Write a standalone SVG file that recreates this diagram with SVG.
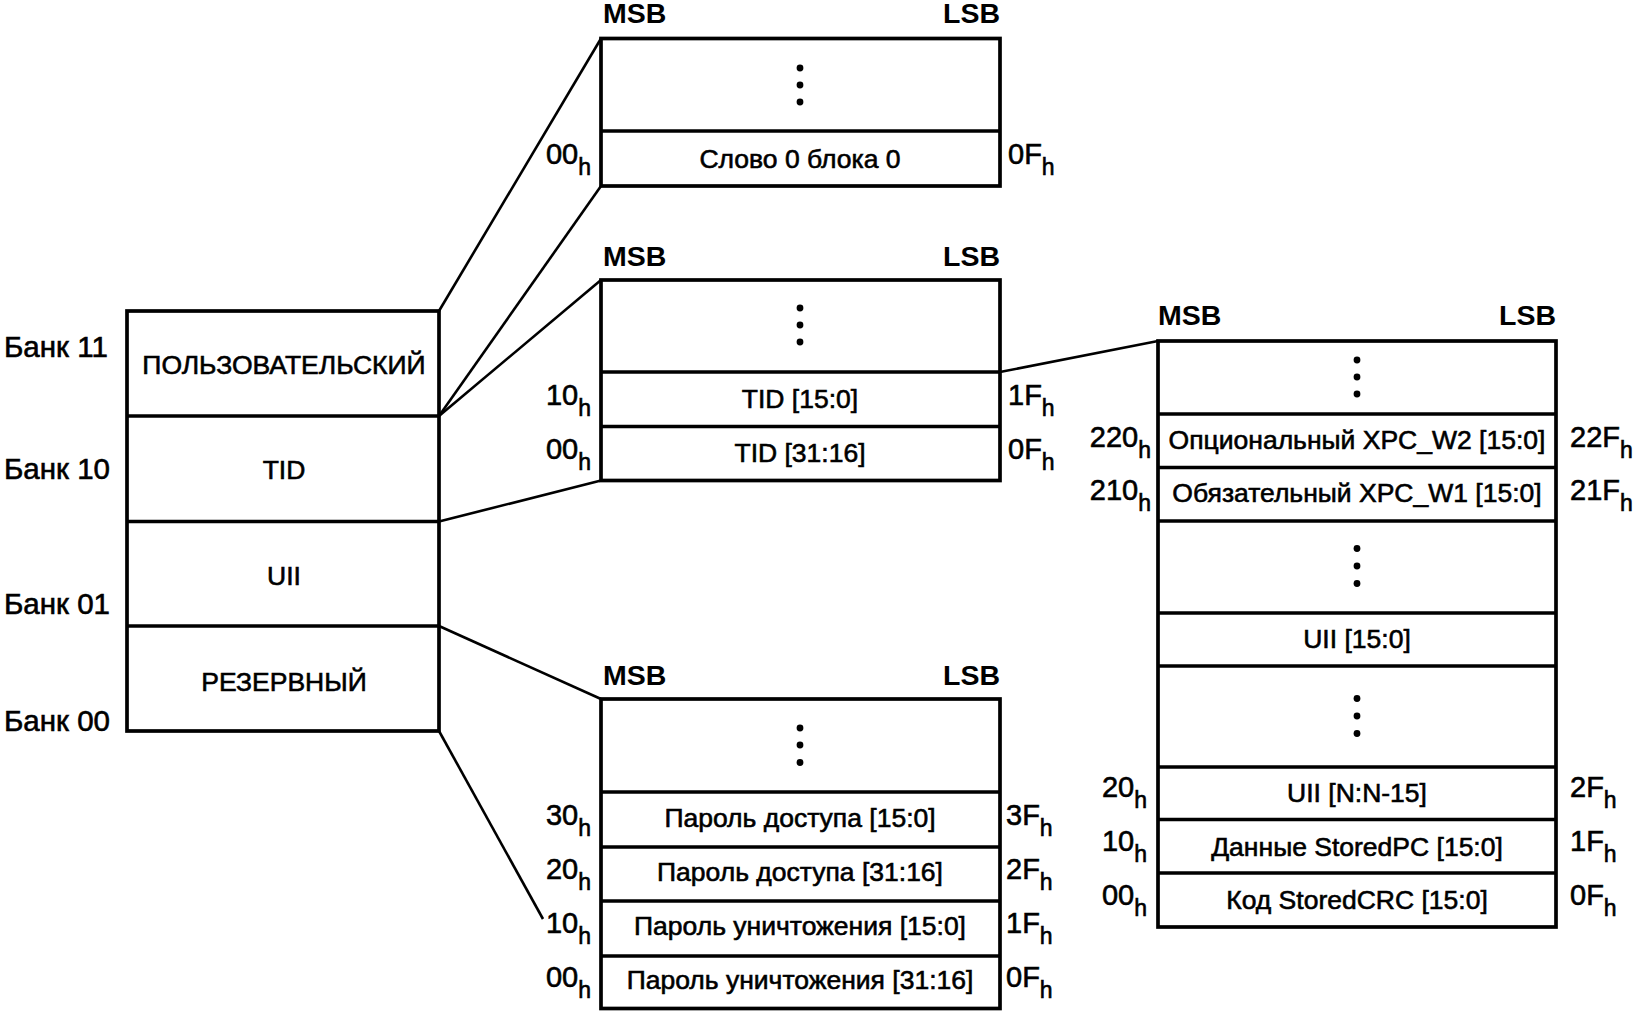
<svg xmlns="http://www.w3.org/2000/svg" width="1642" height="1016" viewBox="0 0 1642 1016">
<style>
text{font-family:"Liberation Sans",Arial,sans-serif;fill:#000;stroke:#000;stroke-width:0.6}
.box{fill:#fff;stroke:#000;stroke-width:3.7}
.div{stroke:#000;stroke-width:3.5}
.con{stroke:#000;stroke-width:2.6;fill:none}
.bank{font-size:29.5px}
.bt{font-size:26.5px;text-anchor:middle}
.hdr{font-size:28.5px;font-weight:bold;stroke-width:0}
.c{font-size:26.5px;text-anchor:middle}
.c4{font-size:26.5px;text-anchor:middle}
.al{font-size:29px;text-anchor:end}
.ar{font-size:29px}
.sub{font-size:23px}
.dot{fill:#000}
</style>
<rect width="1642" height="1016" fill="#fff"/>
<g id="connectors">
<line class="con" x1="439" y1="311" x2="601" y2="38.5"/>
<line class="con" x1="439" y1="416" x2="601" y2="186"/>
<line class="con" x1="439" y1="416" x2="601" y2="280"/>
<line class="con" x1="439" y1="521.5" x2="601" y2="480.5"/>
<line class="con" x1="439" y1="626" x2="601" y2="699"/>
<line class="con" x1="439" y1="731" x2="543" y2="919"/>
<line class="con" x1="1000" y1="372" x2="1158" y2="341"/>
</g>
<g id="banks">
<rect class="box" x="127" y="311" width="312" height="420"/>
<line class="div" x1="127" y1="416" x2="439" y2="416"/>
<line class="div" x1="127" y1="521.5" x2="439" y2="521.5"/>
<line class="div" x1="127" y1="626" x2="439" y2="626"/>
<text class="bt" x="284" y="374">ПОЛЬЗОВАТЕЛЬСКИЙ</text>
<text class="bt" x="284" y="479">TID</text>
<text class="bt" x="284" y="585">UII</text>
<text class="bt" x="284" y="691">РЕЗЕРВНЫЙ</text>
<text class="bank" x="4" y="357">Банк 11</text>
<text class="bank" x="4" y="479">Банк 10</text>
<text class="bank" x="4" y="614">Банк 01</text>
<text class="bank" x="4" y="731">Банк 00</text>
</g>
<g id="user-bank">
<text class="hdr" x="603" y="23">MSB</text>
<text class="hdr" x="1000" y="23" text-anchor="end">LSB</text>
<rect class="box" x="601" y="38.5" width="399" height="147.5"/>
<line class="div" x1="601" y1="131" x2="1000" y2="131"/>
<circle class="dot" cx="800" cy="68" r="3.4"/>
<circle class="dot" cx="800" cy="85" r="3.4"/>
<circle class="dot" cx="800" cy="102" r="3.4"/>
<text class="c" x="800" y="168">Слово 0 блока 0</text>
<text class="al" x="591" y="164">00<tspan class="sub" dy="11">h</tspan></text>
<text class="ar" x="1008" y="164">0F<tspan class="sub" dy="11">h</tspan></text>
</g>
<g id="tid-bank">
<text class="hdr" x="603" y="266">MSB</text>
<text class="hdr" x="1000" y="266" text-anchor="end">LSB</text>
<rect class="box" x="601" y="280" width="399" height="200.5"/>
<line class="div" x1="601" y1="372" x2="1000" y2="372"/>
<line class="div" x1="601" y1="426.5" x2="1000" y2="426.5"/>
<circle class="dot" cx="800" cy="308" r="3.4"/>
<circle class="dot" cx="800" cy="325" r="3.4"/>
<circle class="dot" cx="800" cy="342" r="3.4"/>
<text class="c" x="800" y="408">TID [15:0]</text>
<text class="c" x="800" y="462">TID [31:16]</text>
<text class="al" x="591" y="405">10<tspan class="sub" dy="11">h</tspan></text>
<text class="ar" x="1008" y="405">1F<tspan class="sub" dy="11">h</tspan></text>
<text class="al" x="591" y="459">00<tspan class="sub" dy="11">h</tspan></text>
<text class="ar" x="1008" y="459">0F<tspan class="sub" dy="11">h</tspan></text>
</g>
<g id="reserved-bank">
<text class="hdr" x="603" y="685">MSB</text>
<text class="hdr" x="1000" y="685" text-anchor="end">LSB</text>
<rect class="box" x="601" y="699" width="399" height="309.5"/>
<line class="div" x1="601" y1="792" x2="1000" y2="792"/>
<line class="div" x1="601" y1="847" x2="1000" y2="847"/>
<line class="div" x1="601" y1="901" x2="1000" y2="901"/>
<line class="div" x1="601" y1="956" x2="1000" y2="956"/>
<circle class="dot" cx="800" cy="728" r="3.4"/>
<circle class="dot" cx="800" cy="745" r="3.4"/>
<circle class="dot" cx="800" cy="762.5" r="3.4"/>
<text class="c" x="800" y="827">Пароль доступа [15:0]</text>
<text class="c" x="800" y="881">Пароль доступа [31:16]</text>
<text class="c" x="800" y="935">Пароль уничтожения [15:0]</text>
<text class="c" x="800" y="989">Пароль уничтожения [31:16]</text>
<text class="al" x="591" y="825">30<tspan class="sub" dy="11">h</tspan></text>
<text class="ar" x="1006" y="825">3F<tspan class="sub" dy="11">h</tspan></text>
<text class="al" x="591" y="879">20<tspan class="sub" dy="11">h</tspan></text>
<text class="ar" x="1006" y="879">2F<tspan class="sub" dy="11">h</tspan></text>
<text class="al" x="591" y="933">10<tspan class="sub" dy="11">h</tspan></text>
<text class="ar" x="1006" y="933">1F<tspan class="sub" dy="11">h</tspan></text>
<text class="al" x="591" y="987">00<tspan class="sub" dy="11">h</tspan></text>
<text class="ar" x="1006" y="987">0F<tspan class="sub" dy="11">h</tspan></text>
</g>
<g id="uii-bank">
<text class="hdr" x="1158" y="325">MSB</text>
<text class="hdr" x="1556" y="325" text-anchor="end">LSB</text>
<rect class="box" x="1158" y="341" width="398" height="586"/>
<line class="div" x1="1158" y1="414" x2="1556" y2="414"/>
<line class="div" x1="1158" y1="467.5" x2="1556" y2="467.5"/>
<line class="div" x1="1158" y1="521" x2="1556" y2="521"/>
<line class="div" x1="1158" y1="613" x2="1556" y2="613"/>
<line class="div" x1="1158" y1="666" x2="1556" y2="666"/>
<line class="div" x1="1158" y1="767" x2="1556" y2="767"/>
<line class="div" x1="1158" y1="819.5" x2="1556" y2="819.5"/>
<line class="div" x1="1158" y1="873" x2="1556" y2="873"/>
<circle class="dot" cx="1357" cy="360" r="3.4"/>
<circle class="dot" cx="1357" cy="377" r="3.4"/>
<circle class="dot" cx="1357" cy="394" r="3.4"/>
<circle class="dot" cx="1357" cy="548.5" r="3.4"/>
<circle class="dot" cx="1357" cy="566" r="3.4"/>
<circle class="dot" cx="1357" cy="583.5" r="3.4"/>
<circle class="dot" cx="1357" cy="698.5" r="3.4"/>
<circle class="dot" cx="1357" cy="716" r="3.4"/>
<circle class="dot" cx="1357" cy="733.5" r="3.4"/>
<text class="c4" x="1357" y="449">Опциональный XPC_W2 [15:0]</text>
<text class="c4" x="1357" y="502">Обязательный XPC_W1 [15:0]</text>
<text class="c4" x="1357" y="648">UII [15:0]</text>
<text class="c4" x="1357" y="802">UII [N:N-15]</text>
<text class="c4" x="1357" y="856">Данные StoredPC [15:0]</text>
<text class="c4" x="1357" y="909">Код StoredCRC [15:0]</text>
<text class="al" x="1151" y="447">220<tspan class="sub" dy="11">h</tspan></text>
<text class="ar" x="1570" y="447">22F<tspan class="sub" dy="11">h</tspan></text>
<text class="al" x="1151" y="500">210<tspan class="sub" dy="11">h</tspan></text>
<text class="ar" x="1570" y="500">21F<tspan class="sub" dy="11">h</tspan></text>
<text class="al" x="1147" y="797">20<tspan class="sub" dy="11">h</tspan></text>
<text class="ar" x="1570" y="797">2F<tspan class="sub" dy="11">h</tspan></text>
<text class="al" x="1147" y="851">10<tspan class="sub" dy="11">h</tspan></text>
<text class="ar" x="1570" y="851">1F<tspan class="sub" dy="11">h</tspan></text>
<text class="al" x="1147" y="905">00<tspan class="sub" dy="11">h</tspan></text>
<text class="ar" x="1570" y="905">0F<tspan class="sub" dy="11">h</tspan></text>
</g>
</svg>
